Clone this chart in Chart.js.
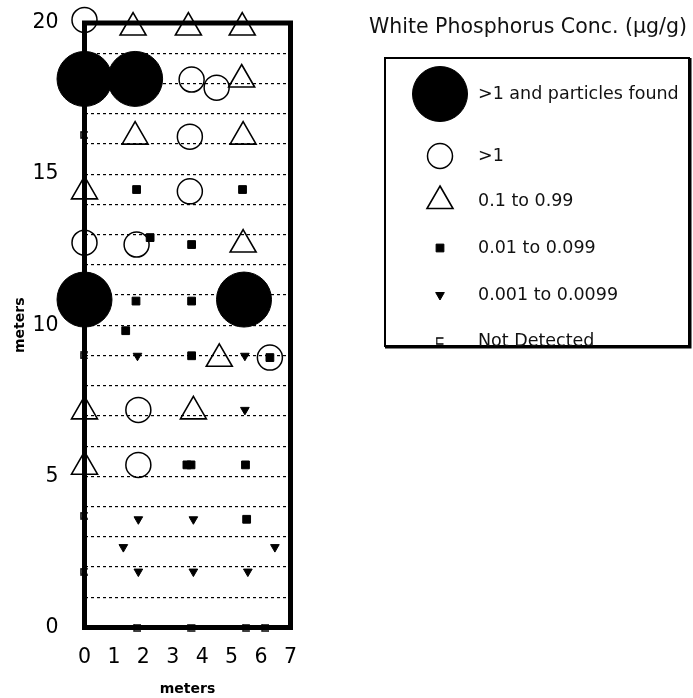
<!DOCTYPE html>
<html>
<head>
<meta charset="utf-8">
<title>White Phosphorus Conc.</title>
<script src="https://cdn.jsdelivr.net/npm/chart.js@4.4.1/dist/chart.umd.min.js"></script>
<style>
  body { margin: 0; background: #fff; }
  #wrap { position: relative; width: 693px; height: 698px; }
</style>
</head>
<body>
<div id="wrap"><canvas id="plot"></canvas></div>
<script>
// legend categories
const categories = ['>1 and particles found', '>1', '0.1 to 0.99', '0.01 to 0.099', '0.001 to 0.0099', 'Not Detected'];
const legendTitle = 'White Phosphorus Conc. (\u00b5g/g)';

// sample locations (meters) per category
const particlesX = [0, 1.72, 0, 5.42];
const particlesY = [18.15, 18.15, 10.85, 10.85];

const overOneX = [0, 3.64, 4.49, 3.58, 3.58, 0, 1.77, 6.3, 1.83, 1.83];
const overOneY = [20.1, 18.13, 17.86, 16.24, 14.43, 12.73, 12.67, 8.93, 7.2, 5.38];

const tenthX = [1.65, 3.53, 5.36, 5.34, 1.72, 5.39, 0, 5.39, 4.58, 0, 3.7, 0];
const tenthY = [19.85, 19.85, 19.85, 18.13, 16.24, 16.24, 14.43, 12.67, 8.89, 7.15, 7.15, 5.32];

const hundredthX = [1.77, 5.37, 2.23, 3.64, 1.75, 3.64, 1.4, 3.64, 6.3, 3.48, 3.62, 5.47, 5.51];
const hundredthY = [14.49, 14.49, 12.9, 12.67, 10.8, 10.8, 9.82, 8.99, 8.93, 5.38, 5.38, 5.38, 3.58];

const thousandthX = [1.8, 5.45, 5.45, 1.83, 3.7, 1.32, 6.47, 1.83, 3.7, 5.55];
const thousandthY = [8.99, 8.99, 7.2, 3.58, 3.58, 2.66, 2.66, 1.85, 1.85, 1.85];

const notDetectedX = [0, 0, 0, 0, 1.8, 3.65, 5.5, 6.15];
const notDetectedY = [16.3, 9.0, 3.7, 1.85, 0, 0, 0, 0];

// axis tick labels
const xTickLabels = [0, 1, 2, 3, 4, 5, 6, 7];
const yTickLabels = [0, 5, 10, 15, 20];

const toPoints = (xs, ys) => xs.map((x, i) => ({ x: x, y: ys[i] }));

// little bracket used for "not detected"
const ndMark = document.createElement('canvas');
ndMark.width = 9;
ndMark.height = 8;
const m = ndMark.getContext('2d');
m.strokeStyle = '#000';
m.lineWidth = 1.5;
m.beginPath();
m.moveTo(8, 1); m.lineTo(1, 1); m.lineTo(1, 7); m.lineTo(8, 7);
m.stroke();

const clear = 'rgba(0,0,0,0)';
const font = 'DejaVu Sans';

const framePlugin = {
    id: 'frame',
    afterDatasetsDraw(chart) {
        const { ctx, chartArea: a } = chart;
        ctx.save();
        ctx.strokeStyle = '#000';
        ctx.lineWidth = 5;
        ctx.strokeRect(a.left, a.top, a.right - a.left, a.bottom - a.top);
        ctx.restore();
    }
};

const boxLegend = {
    id: 'boxLegend',
    afterDraw(chart) {
        const ctx = chart.ctx;
        const rows = [94, 156, 201, 248, 295, 341];
        ctx.save();
        ctx.fillStyle = '#111';
        ctx.font = '20.5px "' + font + '"';
        ctx.textBaseline = 'middle';
        ctx.fillText(legendTitle, 369, 28);

        ctx.strokeStyle = '#000';
        ctx.lineWidth = 2;
        ctx.strokeRect(385, 58, 304, 288);
        ctx.lineWidth = 3;
        ctx.beginPath();
        ctx.moveTo(385, 347); ctx.lineTo(690, 347); ctx.lineTo(690, 58);
        ctx.stroke();

        chart.data.datasets.forEach((ds, i) => {
            ctx.fillStyle = ds.backgroundColor;
            ctx.strokeStyle = ds.borderColor;
            ctx.lineWidth = ds.borderWidth;
            Chart.helpers.drawPoint(ctx, {
                pointStyle: ds.pointStyle,
                radius: ds.pointRadius,
                rotation: ds.rotation || 0,
                borderWidth: ds.borderWidth
            }, 440, rows[i]);
            ctx.fillStyle = '#111';
            ctx.font = '17.5px "' + font + '"';
            ctx.fillText(categories[i], 478, rows[i]);
        });
        ctx.restore();
    }
};

new Chart(document.getElementById('plot'), {
    type: 'scatter',
    data: {
        datasets: [
            {
                label: categories[0],
                data: toPoints(particlesX, particlesY),
                pointStyle: 'circle',
                pointRadius: 27.5,
                backgroundColor: '#000',
                borderColor: '#000',
                borderWidth: 1
            },
            {
                label: categories[1],
                data: toPoints(overOneX, overOneY),
                pointStyle: 'circle',
                pointRadius: 12.5,
                backgroundColor: clear,
                borderColor: '#000',
                borderWidth: 1.5
            },
            {
                label: categories[2],
                data: toPoints(tenthX, tenthY),
                pointStyle: 'triangle',
                pointRadius: 15,
                backgroundColor: clear,
                borderColor: '#000',
                borderWidth: 1.6
            },
            {
                label: categories[3],
                data: toPoints(hundredthX, hundredthY),
                pointStyle: 'rect',
                pointRadius: 5.5,
                backgroundColor: '#000',
                borderColor: '#000',
                borderWidth: 1
            },
            {
                label: categories[4],
                data: toPoints(thousandthX, thousandthY),
                pointStyle: 'triangle',
                rotation: 180,
                pointRadius: 5,
                backgroundColor: '#000',
                borderColor: '#000',
                borderWidth: 1
            },
            {
                label: categories[5],
                data: toPoints(notDetectedX, notDetectedY),
                pointStyle: ndMark,
                pointRadius: 4,
                backgroundColor: clear,
                borderColor: '#000',
                borderWidth: 1.5
            }
        ]
    },
    options: {
        responsive: true,
        maintainAspectRatio: false,
        animation: false,
        events: [],
        clip: false,
        layout: {
            autoPadding: false,
            padding: { left: 0, right: 402.5, top: 23, bottom: 0 }
        },
        plugins: {
            legend: { display: false },
            tooltip: { enabled: false }
        },
        scales: {
            x: {
                type: 'linear',
                min: 0,
                max: 7,
                afterFit: (s) => { s.height = 70.5; },
                grid: { display: false },
                border: { display: false },
                ticks: {
                    stepSize: 1,
                    padding: 10,
                    color: '#000',
                    font: { family: font, size: 20.5 },
                    callback: (v) => xTickLabels.includes(v) ? String(v) : ''
                },
                title: {
                    display: true,
                    text: 'meters',
                    color: '#000',
                    padding: { top: 0, bottom: 0 },
                    font: { family: font, size: 14, weight: 'bold' }
                }
            },
            y: {
                type: 'linear',
                min: 0,
                max: 20,
                afterFit: (s) => {
                    s.width = 84.5;
                    s.paddingTop = 0;
                    s.paddingBottom = 0;
                },
                grid: { color: '#000', lineWidth: 1.2, drawTicks: false },
                border: { display: false, dash: [3, 3] },
                ticks: {
                    stepSize: 1,
                    autoSkip: false,
                    padding: 26,
                    color: '#000',
                    font: { family: font, size: 20.5 },
                    callback: (v) => yTickLabels.includes(v) ? String(v) : ''
                },
                title: {
                    display: true,
                    text: 'meters',
                    color: '#000',
                    padding: { top: 12, bottom: 0 },
                    font: { family: font, size: 14, weight: 'bold' }
                }
            }
        }
    },
    plugins: [framePlugin, boxLegend]
});
</script>
</body>
</html>
